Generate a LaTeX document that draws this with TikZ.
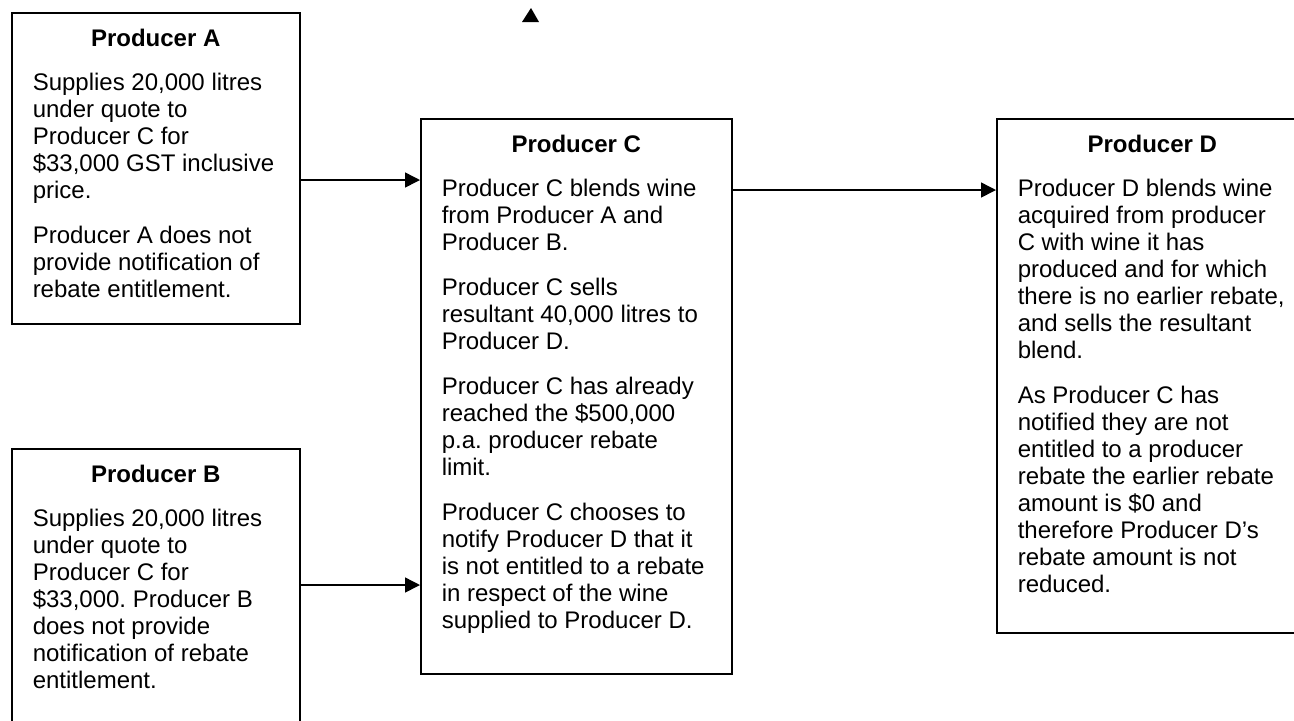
\documentclass[tikz,border=0pt]{standalone}
\usepackage{fontspec}
\setmainfont{Liberation Sans}
\usetikzlibrary{arrows.meta}
% #1 text width, #2 box height, #3 title, #4 paragraphs
\newcommand{\producerText}[4]{%
    \parbox[t][#2][t]{#1}{\centering\rule{0pt}{17pt}\textbf{#3}\par
        \vspace{-0.5pt}%
        \raggedright\frenchspacing\spaceskip=\fontdimen2\font\relax
        \parskip=9pt #4}%
}

\begin{document}
\begin{tikzpicture}[x=0.5pt,y=-0.5pt,
    every node/.style={font=\fontsize{12pt}{13.5pt}\selectfont},
    prodbox/.style={draw,line width=0.75pt,anchor=north west,inner xsep=10.5pt,inner ysep=0pt},
    flow/.style={line width=0.75pt,-{Triangle[length=7.5pt,width=7.5pt]}}]
\useasboundingbox (0,0) rectangle (1294,720);
\clip (0,0) rectangle (1294,720);

\node[prodbox] (prodA) at (11,12) {\producerText{123pt}{155.5pt}{Producer A}{%
    Supplies 20,000 litres under quote to Producer C for \$33,000 GST inclusive price.\par
    Producer A does not provide notification of rebate entitlement.}};

\node[prodbox] (prodB) at (11,448) {\producerText{123pt}{161pt}{Producer B}{%
    Supplies 20,000 litres under quote to Producer C for \$33,000. Producer B does not provide notification of rebate entitlement.}};

\node[prodbox] (prodC) at (420,118) {\producerText{134.5pt}{277.5pt}{Producer C}{%
    Producer C blends wine from Producer A and Producer B.\par
    Producer C sells resultant 40,000 litres to Producer D.\par
    Producer C has already reached the \$500,000 p.a. producer rebate limit.\par
    Producer C chooses to notify Producer D that it is not entitled to a rebate in respect of the wine supplied to Producer D.}};

\node[prodbox] (prodD) at (996,118) {\producerText{134.5pt}{257pt}{Producer D}{%
    Producer D blends wine acquired from producer C with wine it has produced and for which there is no earlier rebate, and sells the resultant blend.\par
    As Producer C has notified they are not entitled to a producer rebate the earlier rebate amount is \$0 and therefore Producer D’s rebate amount is not reduced.}};

\coordinate (rowA) at (0,180);
\coordinate (rowB) at (0,585);
\coordinate (rowD) at (0,190);

\draw[flow] (prodA.east |- rowA) -- (prodC.west |- rowA);
\draw[flow] (prodB.east |- rowB) -- (prodC.west |- rowB);
\draw[flow] (prodC.east |- rowD) -- (prodD.west |- rowD);

% stray tip at the top
\fill (531,8) -- (539,22) -- (522,22) -- cycle;
\end{tikzpicture}
\end{document}
